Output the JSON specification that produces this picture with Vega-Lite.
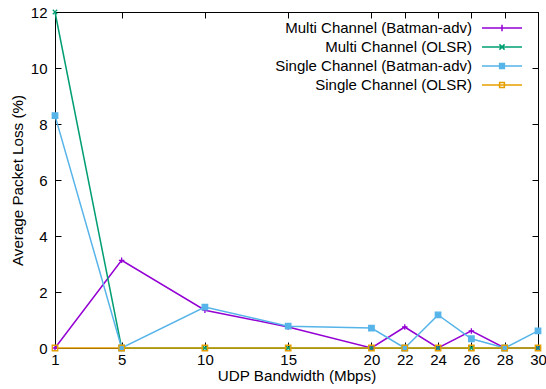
{
  "$schema": "https://vega.github.io/schema/vega-lite/v6.json",
  "width": 483,
  "height": 336,
  "autosize": {"type": "none"},
  "padding": {"left": 55, "top": 12, "right": 8, "bottom": 41},
  "background": "white",
  "config": {
    "font": "Liberation Sans",
    "view": {"stroke": "black", "strokeWidth": 1},
    "axis": {
      "grid": false,
      "domainColor": "black",
      "tickColor": "black",
      "tickSize": -6,
      "labelFontSize": 15,
      "labelColor": "black",
      "titleFontSize": 15.2,
      "titleFontWeight": "normal",
      "titleColor": "black"
    },
    "legend": {"labelFontSize": 15, "labelColor": "black"}
  },
  "data": {
    "values": [
      {"bw": 1, "s": "Multi Channel (Batman-adv)", "v": 0},
      {"bw": 5, "s": "Multi Channel (Batman-adv)", "v": 3.13},
      {"bw": 10, "s": "Multi Channel (Batman-adv)", "v": 1.35},
      {"bw": 15, "s": "Multi Channel (Batman-adv)", "v": 0.75},
      {"bw": 20, "s": "Multi Channel (Batman-adv)", "v": 0},
      {"bw": 22, "s": "Multi Channel (Batman-adv)", "v": 0.75},
      {"bw": 24, "s": "Multi Channel (Batman-adv)", "v": 0},
      {"bw": 26, "s": "Multi Channel (Batman-adv)", "v": 0.61},
      {"bw": 28, "s": "Multi Channel (Batman-adv)", "v": 0},
      {"bw": 30, "s": "Multi Channel (Batman-adv)", "v": 0},
      {"bw": 1, "s": "Multi Channel (OLSR)", "v": 12},
      {"bw": 5, "s": "Multi Channel (OLSR)", "v": 0},
      {"bw": 10, "s": "Multi Channel (OLSR)", "v": 0},
      {"bw": 15, "s": "Multi Channel (OLSR)", "v": 0},
      {"bw": 20, "s": "Multi Channel (OLSR)", "v": 0},
      {"bw": 22, "s": "Multi Channel (OLSR)", "v": 0},
      {"bw": 24, "s": "Multi Channel (OLSR)", "v": 0},
      {"bw": 26, "s": "Multi Channel (OLSR)", "v": 0},
      {"bw": 28, "s": "Multi Channel (OLSR)", "v": 0},
      {"bw": 30, "s": "Multi Channel (OLSR)", "v": 0},
      {"bw": 1, "s": "Single Channel (Batman-adv)", "v": 8.3},
      {"bw": 5, "s": "Single Channel (Batman-adv)", "v": 0},
      {"bw": 10, "s": "Single Channel (Batman-adv)", "v": 1.46},
      {"bw": 15, "s": "Single Channel (Batman-adv)", "v": 0.78},
      {"bw": 20, "s": "Single Channel (Batman-adv)", "v": 0.71},
      {"bw": 22, "s": "Single Channel (Batman-adv)", "v": 0},
      {"bw": 24, "s": "Single Channel (Batman-adv)", "v": 1.18},
      {"bw": 26, "s": "Single Channel (Batman-adv)", "v": 0.33},
      {"bw": 28, "s": "Single Channel (Batman-adv)", "v": 0},
      {"bw": 30, "s": "Single Channel (Batman-adv)", "v": 0.61},
      {"bw": 1, "s": "Single Channel (OLSR)", "v": 0},
      {"bw": 5, "s": "Single Channel (OLSR)", "v": 0},
      {"bw": 10, "s": "Single Channel (OLSR)", "v": 0},
      {"bw": 15, "s": "Single Channel (OLSR)", "v": 0},
      {"bw": 20, "s": "Single Channel (OLSR)", "v": 0},
      {"bw": 22, "s": "Single Channel (OLSR)", "v": 0},
      {"bw": 24, "s": "Single Channel (OLSR)", "v": 0},
      {"bw": 26, "s": "Single Channel (OLSR)", "v": 0},
      {"bw": 28, "s": "Single Channel (OLSR)", "v": 0},
      {"bw": 30, "s": "Single Channel (OLSR)", "v": 0}
    ]
  },
  "resolve": {
    "axis": {"x": "independent", "y": "independent"},
    "scale": {"color": "independent", "shape": "independent", "fill": "independent"}
  },
  "layer": [
    {
      "mark": {"type": "line", "strokeWidth": 1.5},
      "encoding": {
        "x": {
          "field": "bw", "type": "quantitative",
          "scale": {"domain": [1, 30], "nice": false, "zero": false},
          "axis": {"orient": "bottom", "values": [1, 5, 10, 15, 20, 22, 24, 26, 28, 30], "labelPadding": 10, "title": "UDP Bandwidth (Mbps)", "titlePadding": 1, "labelFlush": false}
        },
        "y": {
          "field": "v", "type": "quantitative",
          "scale": {"domain": [0, 12], "nice": false},
          "axis": {"orient": "left", "values": [0, 2, 4, 6, 8, 10, 12], "labelPadding": 14, "title": "Average Packet Loss (%)", "titlePadding": 5}
        },
        "color": {
          "field": "s", "type": "nominal",
          "scale": {"range": ["#9400d3", "#009e73", "#56b4e9", "#e69f00"]},
          "legend": null
        },
        "order": {"field": "s"}
      }
    },
    {
      "mark": {"type": "point", "filled": false, "strokeWidth": 1.3, "size": 30, "opacity": 1},
      "encoding": {
        "x": {"field": "bw", "type": "quantitative", "axis": null},
        "y": {"field": "v", "type": "quantitative", "axis": null},
        "color": {
          "field": "s", "type": "nominal",
          "scale": {"range": ["#9400d3", "#009e73", "#56b4e9", "#e69f00"]},
          "legend": null
        },
        "shape": {
          "field": "s", "type": "nominal",
          "scale": {"range": ["M-1,0L1,0M0,-1L0,1", "M-0.8,-0.8L0.8,0.8M-0.8,0.8L0.8,-0.8", "square", "square"]},
          "legend": null
        },
        "fill": {
          "field": "s", "type": "nominal",
          "scale": {"range": ["transparent", "transparent", "#56b4e9", "transparent"]},
          "legend": null
        }
      }
    },
    {
      "mark": {"type": "point", "opacity": 0, "filled": false},
      "encoding": {
        "x": {"field": "bw", "type": "quantitative", "axis": {"orient": "top", "values": [1, 5, 10, 15, 20, 22, 24, 26, 28, 30], "labels": false, "title": null}},
        "y": {"field": "v", "type": "quantitative", "axis": {"orient": "right", "values": [0, 2, 4, 6, 8, 10, 12], "labels": false, "title": null}},
        "color": {
          "field": "s", "type": "nominal",
          "scale": {"range": ["#9400d3", "#009e73", "#56b4e9", "#e69f00"]},
          "legend": {"title": null, "orient": "none", "legendX": 436, "legendY": 5, "symbolSize": 400, "symbolStrokeWidth": 1.5, "symbolOpacity": 1, "rowPadding": -1, "labelLimit": 300, "labelAlign": "right", "labelOffset": -41}
        },
        "shape": {
          "field": "s", "type": "nominal",
          "scale": {"range": [
            "M-2,0L2,0M0,-0.32L0,0.32",
            "M-2,0L2,0M-0.26,-0.26L0.26,0.26M-0.26,0.26L0.26,-0.26",
            "M-2,0L2,0M-0.24,-0.24H0.24V0.24H-0.24Z",
            "M-2,0L2,0M-0.24,-0.24H0.24V0.24H-0.24Z"
          ]}
        },
        "fill": {
          "field": "s", "type": "nominal",
          "scale": {"range": ["transparent", "transparent", "#56b4e9", "white"]}
        }
      }
    }
  ]
}
